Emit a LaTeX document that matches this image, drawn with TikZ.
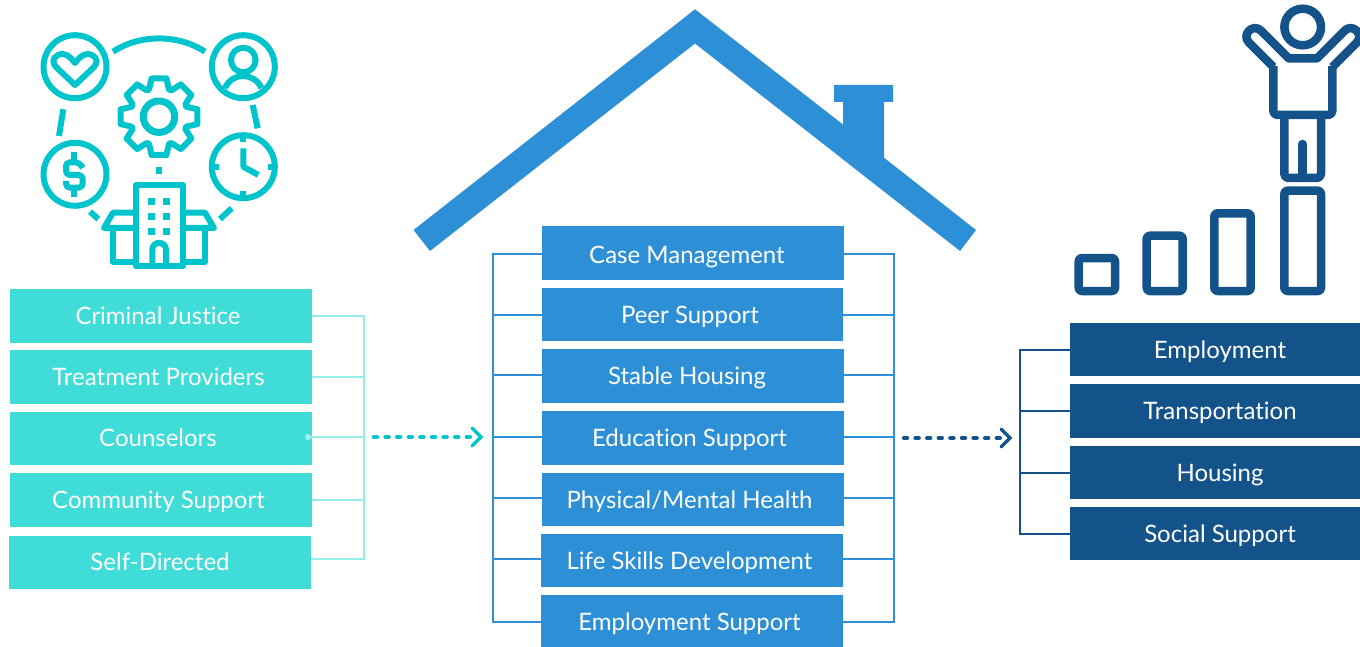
\documentclass[tikz,border=0pt]{standalone}
\usepackage{fontspec}
\setmainfont[Ligatures=NoCommon]{Lato}
\definecolor{teal1}{HTML}{3FDCD8}
\definecolor{tealline}{HTML}{97EDEA}
\definecolor{tealicon}{HTML}{00C4CC}
\definecolor{blue1}{HTML}{2D8FD5}
\definecolor{navy}{HTML}{14538A}
\tikzset{
 x=1pt,y=-1pt,
 box/.style={draw=none,minimum width=#1,minimum height=53.5pt,inner sep=0pt,anchor=center},
 tealbox/.style={box=302pt,fill=teal1},
 bluebox/.style={box=302pt,fill=blue1},
 navybox/.style={box=290pt,fill=navy},
 lbl/.style={text=white,font=\fontsize{24}{26}\selectfont,anchor=base,inner sep=0pt},
 tline/.style={draw=tealline,line width=2pt},
 bline/.style={draw=blue1,line width=2pt},
 nline/.style={draw=navy,line width=2pt},
 ticon/.style={draw=tealicon,line width=6pt,line join=round},
 nicon/.style={draw=navy,line width=8.5pt,line join=round},
 flow/.style={line width=4.5pt,line cap=round,dash pattern=on 3pt off 8.6pt},
 tip/.style={line width=3.5pt,line cap=round,line join=miter},
}
\begin{document}
\begin{tikzpicture}
\useasboundingbox (0,0) rectangle (1360,647);
% left boxes
\node[tealbox] (l1) at (161,316) {};
\node[tealbox] (l2) at (161,377) {};
\node[tealbox] (l3) at (161,438.5) {};
\node[tealbox] (l4) at (161,500) {};
\node[tealbox] (l5) at (160,562.5) {};
\node[lbl] (lt1) at (158,324) {Criminal Justice};
\node[lbl] (lt2) at (158.5,385) {Treatment Providers};
\node[lbl] (lt3) at (158,446.5) {Counselors};
\node[lbl] (lt4) at (158.5,508) {Community Support};
\node[lbl] (lt5) at (160,570) {Self-Directed};
\coordinate (lb1) at (363.5,316);
\coordinate (lb2) at (363.5,377);
\coordinate (lb3) at (363.5,437);
\coordinate (lb4) at (363.5,500);
\coordinate (lb5) at (363.5,559);
\coordinate (ldot) at (308,437);
\draw[tline] (l1.east) -- (lb1) -- (lb5) -- (l5.east |- lb5);
\draw[tline] (l2.east) -- (lb2);
\draw[tline] (ldot) -- (lb3);
\draw[tline] (l4.east) -- (lb4);
\fill[tealline] (ldot) circle (3.2);
% centre boxes
\node[bluebox] (c1) at (693,253) {};
\node[bluebox,minimum width=301pt] (c2) at (692.5,314.5) {};
\node[bluebox] (c3) at (693,376) {};
\node[bluebox] (c4) at (693,438) {};
\node[bluebox] (c5) at (693,499.5) {};
\node[bluebox] (c6) at (692,560.5) {};
\node[bluebox] (c7) at (692,621.5) {};
\node[lbl] (t1) at (687,263) {Case Management};
\node[lbl] (t2) at (690,323.5) {Peer Support};
\node[lbl] (t3) at (687,384) {Stable Housing};
\node[lbl] (t4) at (689.5,446.5) {Education Support};
\node[lbl] (t5) at (689.5,508) {Physical/Mental Health};
\node[lbl] (t6) at (689.5,569) {Life Skills Development};
\node[lbl] (t7) at (689.5,630.5) {Employment Support};
\coordinate (cl) at (493,254);
\coordinate (cr) at (894,254);
\draw[bline] (c1.west |- cl) -- (cl) -- (cl |- c7.west) -- (c7.west);
\draw[bline] (c1.east |- cr) -- (cr) -- (cr |- c7.east) -- (c7.east);
\foreach \i/\y in {2/315,3/375,4/437,5/498,6/559}{
 \draw[bline] (c\i.west |- 0,\y) -- (cl |- 0,\y);
 \draw[bline] (c\i.east |- 0,\y) -- (cr |- 0,\y);
}
% right boxes
\node[navybox] (r1) at (1215,349.5) {};
\node[navybox] (r2) at (1215,411) {};
\node[navybox] (r3) at (1215,472.5) {};
\node[navybox] (r4) at (1215,533.5) {};
\node[lbl] (rt1) at (1220,358) {Employment};
\node[lbl] (rt2) at (1220,419) {Transportation};
\node[lbl] (rt3) at (1220,481) {Housing};
\node[lbl] (rt4) at (1220,542) {Social Support};
\coordinate (rl) at (1020,350);
\draw[nline] (r1.west |- rl) -- (rl) -- (rl |- r4.west) -- (r4.west);
\draw[nline] (r2.west) -- (rl |- r2.west);
\draw[nline] (r3.west) -- (rl |- r3.west);
% flow arrows
\coordinate (a1) at (374,437);
\coordinate (a2) at (472,437);
\draw[tealicon,flow] (a1) -- (a2);
\draw[tealicon,tip] (472,428) -- (481,437) -- (472,446);
\coordinate (b1) at (904,438);
\coordinate (b2) at (1002,438);
\draw[navy,flow] (b1) -- (b2);
\draw[navy,tip] (1001,429) -- (1010,438) -- (1001,447);
% house
\fill[blue1] (695,9.3) -- (843,124.5) -- (843,102) -- (834,102) -- (834,85) -- (893,85) -- (893,102) -- (884,102) -- (884,157.7) -- (976,230) -- (960,251) -- (695,43.5) -- (430,251) -- (413.5,230) -- cycle;
% left icon
\begin{scope}[ticon]
 \draw (75,66.7) circle (31.5);
 \draw (243.3,66.7) circle (31.5);
 \draw (75,174.3) circle (31.5);
 \draw (243.3,166.7) circle (31.5);
 \draw (113,51.7) .. controls (140,34) and (178,34) .. (205,51.7);
 \draw (63.3,109.3) -- (59,136);
 \draw (252.7,105) -- (257.7,128.3);
 \draw (90,211.7) -- (98.3,219);
 \draw (231.7,208.3) -- (220,219);
 \draw (159,166.7) -- (159,174.3);
 % heart
 \draw (75,85) -- (57,68) .. controls (52,63) and (52,58) .. (58,55) .. controls (63,52) and (69,55) .. (75,63) .. controls (81,55) and (87,52) .. (92,55) .. controls (98,58) and (98,63) .. (93,68) -- cycle;
 % person
 \draw (243.3,60) circle (12.3);
 \draw (225,88) .. controls (232,72) and (254,72) .. (261.5,88);
 % dollar
 \draw[rounded corners=4] (82.7,168) -- (79.3,162.3) -- (66,162.3) -- (66,175) -- (82.7,175) -- (82.7,187.7) -- (66,187.7) -- (66,181);
 \draw (74.3,152) -- (74.3,160);
 \draw (74.3,189) -- (74.3,197);
 % clock
 \draw (243.3,148.3) -- (243.3,166.7) -- (258.3,175);
 \draw (243.3,137) -- (243.3,142);
 \draw (243.3,191) -- (243.3,196);
 \draw (214,166.7) -- (219,166.7);
 \draw (268,166.7) -- (273,166.7);
 % gear
 \begin{scope}[shift={(159,116.7)}]
  \draw[line width=7pt] (0,0) circle (15.7);
  \draw (-20:29) \foreach \a in {0,45,...,315}{ -- (\a-20:29) -- (\a-11:39) -- (\a+11:39) -- (\a+20:29) } -- cycle;
 \end{scope}
 % building
 \draw (135.7,266.3) -- (135.7,185.3) -- (182.7,185.3) -- (182.7,266.3) -- cycle;
 \draw (135.7,212.7) -- (113,212.7) -- (104,228) -- (135.7,228);
 \draw (182.7,212.7) -- (205,212.7) -- (214,228) -- (182.7,228);
 \draw (112.7,228) -- (112.7,261.7) -- (135.7,261.7);
 \draw (205.3,228) -- (205.3,261.7) -- (182.7,261.7);
 \draw (152.3,266) -- (152.3,250) .. controls (152.3,240.5) and (166,240.5) .. (166,250) -- (166,266);
\end{scope}
\foreach \x in {151.7,166.7}{\foreach \y in {201.7,216.7,231.7}{
 \fill[tealicon] (\x-3.7,\y-3.7) rectangle (\x+3.7,\y+3.7);}}
% right icon
\begin{scope}[nicon]
 \draw[rounded corners=3] (1078.7,258) rectangle (1115,291);
 \draw[rounded corners=3] (1146.7,235.7) rectangle (1182.7,291);
 \draw[rounded corners=3] (1214.3,213.3) rectangle (1250.7,291);
 \draw[rounded corners=3] (1284.3,190.7) rectangle (1321,291);
 \draw (1302.7,27) circle (18.3);
 \draw (1273.3,67) -- (1249,42.7) .. controls (1241,34.7) and (1253,22.7) .. (1261,30.7) -- (1288.7,58.4) -- (1317,58.4) -- (1344.6,30.7) .. controls (1352.6,22.7) and (1364.6,34.7) .. (1356.6,42.7) -- (1332.3,67);
 \draw[rounded corners=4] (1273.3,66) -- (1273.3,115) -- (1332.3,115) -- (1332.3,66);
 \draw[rounded corners=4] (1284.3,115) -- (1284.3,178) -- (1321,178) -- (1321,115);
 \draw[line cap=round] (1302.7,144) -- (1302.7,178);
\end{scope}
\end{tikzpicture}
\end{document}
